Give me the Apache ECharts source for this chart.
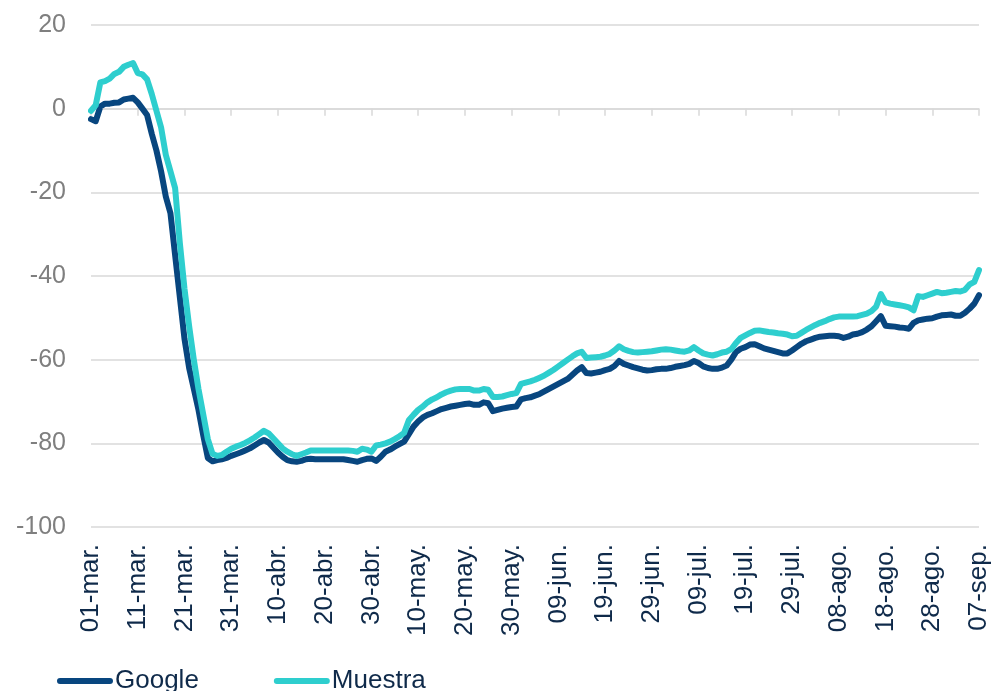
<!DOCTYPE html>
<html>
<head>
<meta charset="UTF-8">
<title>Google vs Muestra</title>
<script src="https://cdn.jsdelivr.net/npm/echarts@6/dist/echarts.min.js"></script>
<style>
  html, body { margin: 0; padding: 0; background: #fff; }
  #chart { width: 1000px; height: 691px; }
</style>
</head>
<body>
<div id="chart"></div>
<script>
// month name + number of days shown (01-mar to 07-sep)
var months = [['mar', 31], ['abr', 30], ['may', 31], ['jun', 30], ['jul', 31], ['ago', 31], ['sep', 7]];
var seriesNames = ['Google', 'Muestra'];
var yTicks = [-100, -80, -60, -40, -20, 0, 20];

var google = [
  -2.5, -3, 0.5, 1.2, 1.2, 1.4, 1.5, 2.2, 2.4, 2.6,
  1.5, 0, -1.5, -6, -10, -15, -21, -25, -35, -45,
  -55, -62, -67, -72, -78, -83.5, -84.3, -84, -83.8, -83.5,
  -83, -82.6, -82.2, -81.7, -81.2, -80.5, -79.8, -79.2, -79.8, -81,
  -82.2, -83.2, -84, -84.3, -84.4, -84.2, -83.8, -83.7, -83.8, -83.8,
  -83.8, -83.8, -83.8, -83.8, -83.8, -84, -84.2, -84.4, -84, -83.7,
  -83.6, -84.2, -83.2, -82, -81.5, -80.8, -80.2, -79.6, -77.8, -76,
  -74.8, -73.8, -73.2, -72.8, -72.3, -71.8, -71.5, -71.2, -71, -70.8,
  -70.6, -70.5, -70.8, -70.8, -70.2, -70.4, -72.3, -72, -71.7, -71.5,
  -71.3, -71.2, -69.5, -69.2, -69, -68.6, -68.2, -67.6, -67, -66.4,
  -65.8, -65.2, -64.6, -63.6, -62.6, -61.8, -63.2, -63.3, -63.1, -62.9,
  -62.5, -62.2, -61.5, -60.3, -61, -61.4, -61.8, -62.1, -62.4, -62.6,
  -62.5, -62.3, -62.2, -62.2, -62, -61.7, -61.5, -61.3, -61, -60.3,
  -60.8, -61.6, -62, -62.2, -62.2, -61.9, -61.4, -60, -58.2, -57.4,
  -57, -56.4, -56.3, -56.8, -57.3, -57.6, -57.9, -58.2, -58.5, -58.5,
  -57.8, -57, -56.2, -55.6, -55.2, -54.8, -54.5, -54.4, -54.3, -54.3,
  -54.4, -54.8, -54.5, -54, -53.8, -53.4, -52.8, -52, -50.8, -49.6,
  -51.9, -52, -52.1, -52.3, -52.4, -52.6, -51.2, -50.6, -50.4, -50.2,
  -50.1, -49.7, -49.4, -49.3, -49.2, -49.5, -49.5, -48.8, -47.8, -46.6,
  -44.6
];

var muestra = [
  -0.5, 0.8, 6.3, 6.6, 7.2, 8.3, 8.8, 10, 10.5, 10.9,
  8.5, 8.2, 7, 3.5, -0.5, -4.5, -11, -15, -19, -32,
  -43, -52, -60, -67, -73, -79, -82.5, -83, -82.8, -82,
  -81.3, -80.8, -80.4, -79.9, -79.3, -78.6, -77.8, -77, -77.6, -78.8,
  -80, -81.2, -82, -82.6, -83, -82.6, -82.2, -81.7, -81.7, -81.7,
  -81.7, -81.7, -81.7, -81.7, -81.7, -81.7, -81.8, -82, -81.3, -81.5,
  -82, -80.5, -80.3, -80, -79.6, -79, -78.3, -77.5, -74.5, -73.2,
  -72, -71.2, -70.2, -69.5, -69, -68.3, -67.8, -67.4, -67.1, -67,
  -67, -67, -67.4, -67.4, -67, -67.2, -68.9, -68.9, -68.8, -68.5,
  -68.2, -68, -65.8, -65.5, -65.2, -64.8, -64.3, -63.8, -63.1, -62.4,
  -61.6, -60.8, -60, -59.2, -58.5, -58.1, -59.6, -59.5, -59.4, -59.3,
  -59, -58.6, -57.8, -56.8, -57.5, -57.9, -58.2, -58.3, -58.2, -58.1,
  -58, -57.8, -57.6, -57.5, -57.6, -57.8, -58, -58.1, -57.8, -57,
  -57.8, -58.5, -58.8, -59, -58.7, -58.3, -58.1, -57.5, -56, -54.8,
  -54.2, -53.6, -53.1, -53, -53.2, -53.4, -53.5, -53.7, -53.8, -54,
  -54.4, -54.3, -53.6, -52.9, -52.3, -51.7, -51.2, -50.8, -50.3, -49.9,
  -49.7, -49.7, -49.7, -49.7, -49.6, -49.3, -49, -48.4, -47.3, -44.3,
  -46.3, -46.6, -46.8, -47, -47.2, -47.5, -48.2, -44.8, -45, -44.6,
  -44.2, -43.8, -44.1, -44, -43.8, -43.6, -43.7, -43.3, -42, -41.4,
  -38.6
];

// build the "dd-mmm." category labels
var dates = [];
for (var m = 0; m < months.length; m++) {
  for (var d = 1; d <= months[m][1]; d++) {
    dates.push((d < 10 ? '0' + d : '' + d) + '-' + months[m][0] + '.');
  }
}

var gridColor = '#d9d9d9';
var textDark = '#0f2a4a';
var capsule = 'path://M3,0 L52,0 A3,3 0 0 1 52,6 L3,6 A3,3 0 0 1 3,0 Z';

var option = {
  animation: false,
  backgroundColor: '#fff',
  grid: { left: 91, right: 21, top: 25, bottom: 164, containLabel: false },
  legend: {
    data: seriesNames,
    left: 52,
    top: 663,
    icon: capsule,
    itemWidth: 56,
    itemHeight: 7,
    itemGap: 75,
    textStyle: { fontFamily: 'Liberation Sans, Arial', fontSize: 26, color: textDark, padding: [0, 0, 0, -3] }
  },
  xAxis: [{
    type: 'category',
    data: dates,
    boundaryGap: false,
    axisLine: { show: false, onZero: false },
    axisTick: { show: false },
    splitLine: { show: false },
    axisLabel: {
      rotate: 90,
      interval: 9,
      margin: 17,
      fontFamily: 'Liberation Sans, Arial',
      fontSize: 26,
      color: textDark
    }
  }, {
    type: 'category',
    data: dates,
    boundaryGap: false,
    position: 'bottom',
    axisLine: { show: true, onZero: true, lineStyle: { color: gridColor, width: 1.5 } },
    axisTick: { show: true, interval: 9, length: 7, lineStyle: { color: gridColor, width: 1.5 } },
    axisLabel: { show: false },
    splitLine: { show: false }
  }],
  yAxis: {
    type: 'value',
    min: yTicks[0],
    max: yTicks[yTicks.length - 1],
    interval: 20,
    axisLine: { show: false },
    axisTick: { show: false },
    splitLine: { lineStyle: { color: gridColor, width: 1.5 } },
    axisLabel: {
      margin: 25,
      fontFamily: 'Liberation Sans, Arial',
      fontSize: 25,
      color: '#7f7f7f'
    }
  },
  series: [{
    name: seriesNames[0],
    type: 'line',
    data: google,
    showSymbol: false,
    symbol: 'none',
    lineStyle: { color: '#08467f', width: 6, join: 'round', cap: 'round' },
    itemStyle: { color: '#08467f' }
  }, {
    name: seriesNames[1],
    type: 'line',
    data: muestra,
    showSymbol: false,
    symbol: 'none',
    lineStyle: { color: '#2ecece', width: 6, join: 'round', cap: 'round' },
    itemStyle: { color: '#2ecece' }
  }]
};

var myChart = echarts.init(document.getElementById('chart'));
myChart.setOption(option);
</script>
</body>
</html>
